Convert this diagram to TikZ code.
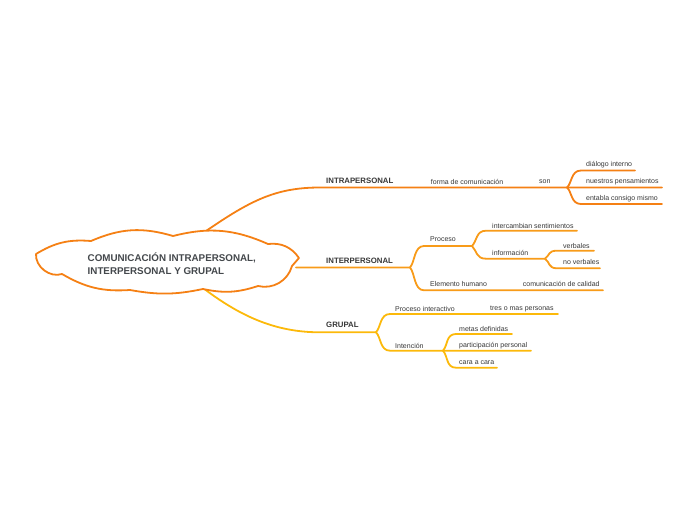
\documentclass[tikz,border=0pt]{standalone}
\usepackage{fontspec}
\setmainfont{Liberation Sans}
\definecolor{cA}{RGB}{245,128,20}
\definecolor{cB}{RGB}{248,155,25}
\definecolor{cC}{RGB}{252,185,10}
\definecolor{txt}{RGB}{55,55,55}
\definecolor{ttl}{RGB}{68,72,76}
\begin{document}
\begin{tikzpicture}[x=1pt,y=-1pt,
  br/.style={line width=1.8pt, line cap=round, line join=round},
  lbl/.style={anchor=west, inner sep=0pt, text=txt, font=\fontsize{7}{8}\selectfont},
  blbl/.style={anchor=west, inner sep=0pt, text=txt, font=\fontsize{7.8}{9}\selectfont\bfseries},
  cloudline/.style={line width=1.8pt, draw=cA, fill=white, line join=round}]
\useasboundingbox (0,0) rectangle (697,520);

% ---------- INTRAPERSONAL ----------
\coordinate (a0) at (206,231);
\coordinate (a1) at (320,187.5);
\coordinate (aJ) at (567,187.5);
\coordinate (a2s) at (581,170.5); \coordinate (a2e) at (635,170.5);
\coordinate (a3e) at (662,187.5);
\coordinate (a4s) at (581,204);   \coordinate (a4e) at (662,204);
\draw[br,cA] (a0) .. controls (250,201) and (275,187.5) .. (a1) -- (aJ) -- (a3e);
\draw[br,cA] (aJ) .. controls (572,183) and (571,170.5) .. (a2s) -- (a2e);
\draw[br,cA] (aJ) .. controls (572,192) and (571,204) .. (a4s) -- (a4e);

% ---------- INTERPERSONAL ----------
\coordinate (b0) at (296,267.5);
\coordinate (bJ) at (410,267.5);
\coordinate (b1s) at (424,246);   \coordinate (bJ2) at (472,246);
\coordinate (b2s) at (424,290.3); \coordinate (b2e) at (603,290.3);
\coordinate (b3s) at (486,230.7); \coordinate (b3e) at (577,230.7);
\coordinate (b4s) at (486,258.7); \coordinate (bJ3) at (545,258.7);
\coordinate (b5s) at (557,250.7); \coordinate (b5e) at (594,250.7);
\coordinate (b6s) at (557,268.3); \coordinate (b6e) at (600,268.3);
\draw[br,cB] (b0) -- (bJ) .. controls (415,262) and (414,246) .. (b1s) -- (bJ2);
\draw[br,cB] (bJ) .. controls (415,273) and (414,290.3) .. (b2s) -- (b2e);
\draw[br,cB] (bJ2) .. controls (477,241) and (476,230.7) .. (b3s) -- (b3e);
\draw[br,cB] (bJ2) .. controls (477,251) and (476,258.7) .. (b4s) -- (bJ3);
\draw[br,cB] (bJ3) .. controls (550,255) and (548,250.7) .. (b5s) -- (b5e);
\draw[br,cB] (bJ3) .. controls (550,262) and (548,268.3) .. (b6s) -- (b6e);

% ---------- GRUPAL ----------
\coordinate (c0) at (203,288);
\coordinate (c1) at (320,332.3);
\coordinate (cJ) at (376,332.3);
\coordinate (c2s) at (390,314);   \coordinate (c2e) at (558,314);
\coordinate (c3s) at (390,350.7); \coordinate (cJ2) at (443,350.7);
\coordinate (c4s) at (456,334);   \coordinate (c4e) at (512,334);
\coordinate (c5e) at (531,350.7);
\coordinate (c6s) at (456,367.7); \coordinate (c6e) at (497,367.7);
\draw[br,cC] (c0) .. controls (240,316) and (275,332.3) .. (c1) -- (cJ);
\draw[br,cC] (cJ) .. controls (381,327) and (380,314) .. (c2s) -- (c2e);
\draw[br,cC] (cJ) .. controls (381,337) and (380,350.7) .. (c3s) -- (cJ2) -- (c5e);
\draw[br,cC] (cJ2) .. controls (448,345) and (446,334) .. (c4s) -- (c4e);
\draw[br,cC] (cJ2) .. controls (448,356) and (446,367.7) .. (c6s) -- (c6e);

% ---------- CLOUD ----------
\coordinate (P0) at (36,254);
\coordinate (P1) at (91,241);
\coordinate (P2) at (173,236);
\coordinate (P3) at (268,244);
\coordinate (P4) at (299,258);
\coordinate (P5) at (292,266);
\coordinate (P6) at (258,286);
\coordinate (P7) at (203,289);
\coordinate (P8) at (130,290);
\coordinate (P9) at (62,274);
\draw[cloudline] (P0) to[bend left=18] (P1) to[bend left=20] (P2)
  to[bend left=19] (P3) to[bend left=31] (P4) -- (P5)
  to[bend left=44] (P6) to[bend left=15] (P7) to[bend left=11] (P8)
  to[bend left=17] (P9) to[bend left=56] cycle;
\node[anchor=west, inner sep=0pt, text=ttl, align=left,
  font=\fontsize{9.8}{12.4}\selectfont\bfseries] (title) at (87.5,263.5)
  {COMUNICACIÓN INTRAPERSONAL,\\INTERPERSONAL Y GRUPAL};

% ---------- LABELS ----------
\node[blbl] (intra) at (326,180.7) {INTRAPERSONAL};
\node[lbl] (forma) at (430.7,182) {forma de comunicación};
\node[lbl] (son) at (539,182) {son};
\node[lbl] (dial) at (586,165) {diálogo interno};
\node[lbl] (nues) at (586,182) {nuestros pensamientos};
\node[lbl] (enta) at (586,199) {entabla consigo mismo};

\node[blbl] (inter) at (326,260.7) {INTERPERSONAL};
\node[lbl] (proc) at (430,239) {Proceso};
\node[lbl] (interc) at (492,225.7) {intercambian sentimientos};
\node[lbl] (info) at (492,252.7) {información};
\node[lbl] (verb) at (563,245.7) {verbales};
\node[lbl] (nover) at (563,262.3) {no verbales};
\node[lbl] (elem) at (430,284.3) {Elemento humano};
\node[lbl] (comu) at (522.7,284.3) {comunicación de calidad};

\node[blbl] (grup) at (326,325.3) {GRUPAL};
\node[lbl] (pint) at (395,309) {Proceso interactivo};
\node[lbl] (tres) at (490,309) {tres o mas personas};
\node[lbl] (inten) at (395,345.7) {Intención};
\node[lbl] (metas) at (459,328.7) {metas definidas};
\node[lbl] (part) at (459,345.7) {participación personal};
\node[lbl] (cara) at (459,362.7) {cara a cara};
\end{tikzpicture}
\end{document}
